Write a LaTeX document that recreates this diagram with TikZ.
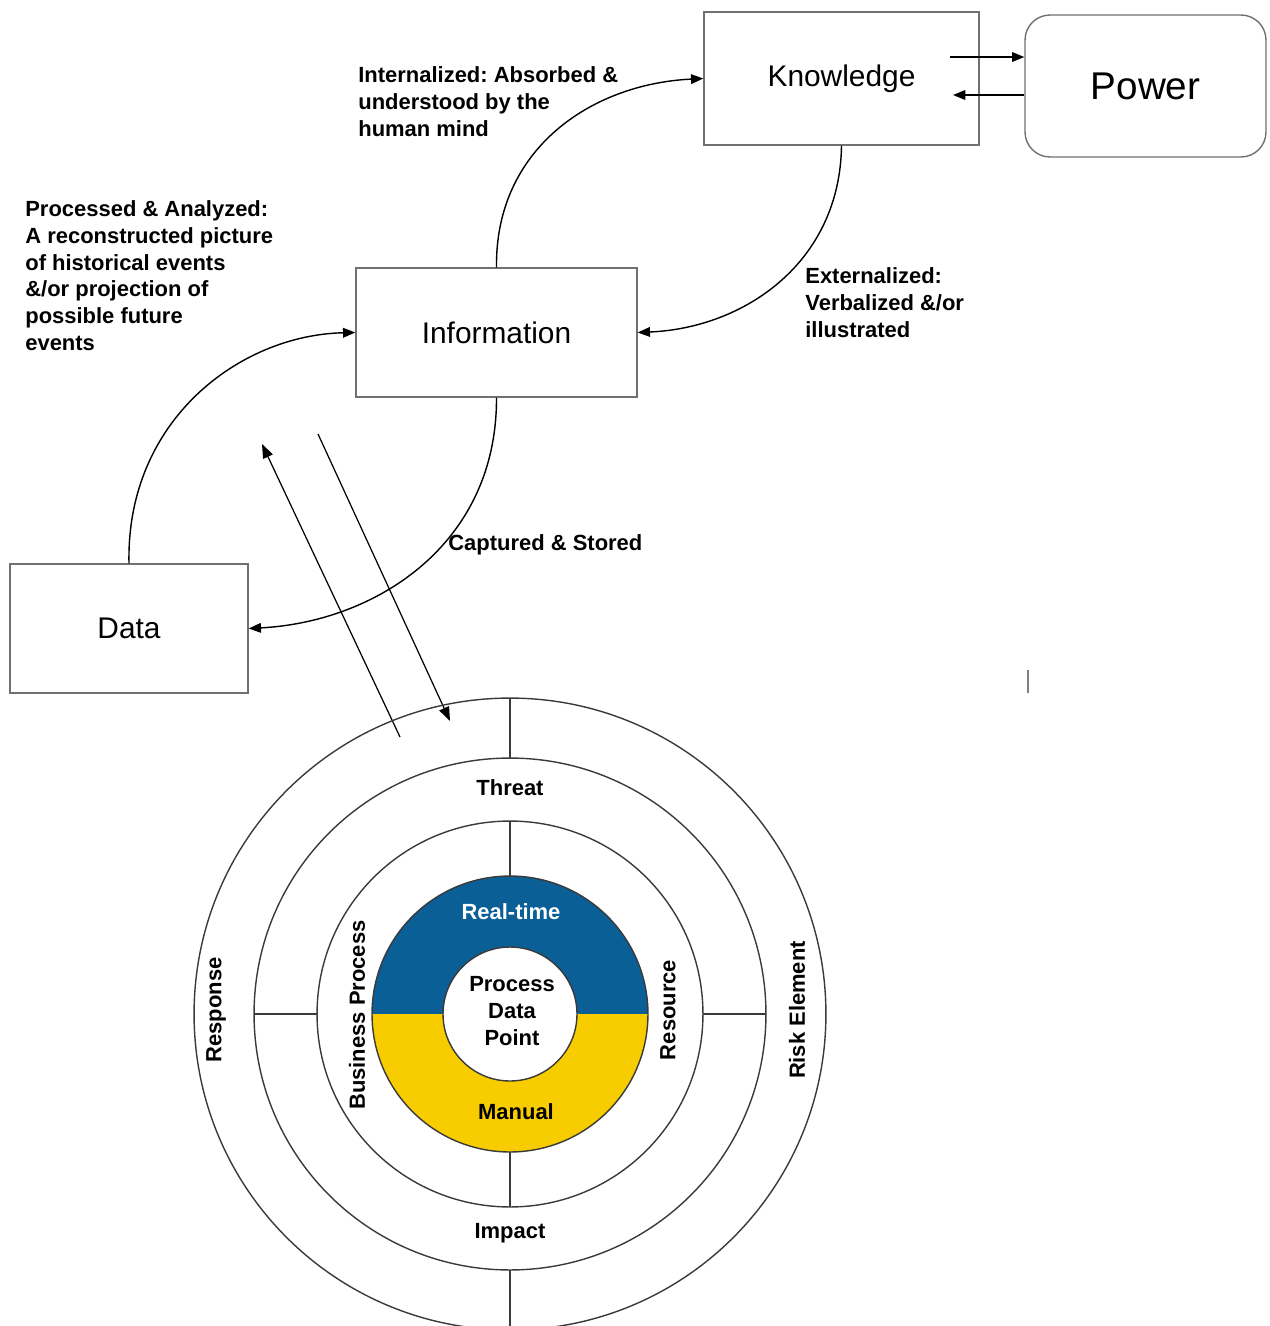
\documentclass[tikz,border=0pt]{standalone}
\usepackage{fontspec}
\setmainfont{Liberation Sans}
\usetikzlibrary{arrows.meta,calc}
\definecolor{ringblue}{HTML}{0B5F97}
\definecolor{ringyellow}{HTML}{F7CD00}
\definecolor{boxgray}{HTML}{707070}
\definecolor{circgray}{HTML}{3A3A3A}
\frenchspacing
\begin{document}
\begin{tikzpicture}[x=0.02cm,y=-0.02cm,
  box/.style={draw=boxgray,line width=0.8pt,inner sep=0pt,font=\fontsize{17}{20}\selectfont},
  arr/.style={line width=0.8pt,-{Triangle[length=7pt,width=5.5pt]}},
  lab/.style={inner sep=0pt,align=left,font=\bfseries\fontsize{12.5}{15.3}\selectfont},
  rlab/.style={inner sep=0pt,align=center,font=\bfseries\fontsize{12.5}{15.3}\selectfont},
  ring/.style={draw=circgray,line width=0.8pt},
  spoke/.style={draw=circgray,line width=0.9pt}]
\useasboundingbox (0,0) rectangle (1269,1326);

% boxes
\node[box,minimum width=5.5cm,minimum height=2.66cm] (K) at (841.5,78.5) {Knowledge};
\node[box,rounded corners=0.5cm,minimum width=4.82cm,minimum height=2.84cm,font=\fontsize{22}{26}\selectfont] (P) at (1145.5,86) {Power};
\node[box,minimum width=5.62cm,minimum height=2.58cm] (I) at (496.5,332.5) {Information};
\node[box,minimum width=4.76cm,minimum height=2.58cm] (D) at (129,628.5) {Data};

% knowledge <-> power
\coordinate (kp) at (950,57);
\coordinate (pk) at (953,95);
\draw[arr] (kp) -- (kp -| P.west);
\draw[arr] (pk -| P.west) -- (pk);

% cycle curves
\draw[arr] (I.north) .. controls (495,150) and (590,84) .. (K.west);
\draw[arr] (K.south) .. controls (840,262) and (745,328) .. (I.east);
\draw[arr] (I.south) .. controls (497,545) and (375,622) .. (D.east);
\draw[arr] (D.north) .. controls (126,420) and (240,335) .. (I.west);

% labels
\node[lab,anchor=north west] (t1) at (358,66) {Internalized: Absorbed \&\\understood by the\\human mind};
\node[lab,anchor=north west] (t2) at (25,200) {Processed \& Analyzed:\\A reconstructed picture\\of historical events\\\&/or projection of\\possible future\\events};
\node[lab,anchor=north west] (t3) at (805,267) {Externalized:\\Verbalized \&/or\\illustrated};
\node[lab,anchor=west] (t4) at (448,545) {Captured \& Stored};

% diagonal arrows
\coordinate (a1) at (400,737);
\coordinate (a2) at (262,444);
\coordinate (b1) at (318,434);
\coordinate (b2) at (450,721);
\draw[line width=0.7pt,-{Triangle[length=8pt,width=6pt]}] (a1) -- (a2);
\draw[line width=0.7pt,-{Triangle[length=8pt,width=6pt]}] (b1) -- (b2);

% stray mark
\coordinate (m1) at (1028,670);
\coordinate (m2) at (1028,693);
\draw[line width=1.4pt,gray] (m1) -- (m2);

% circles
\coordinate (c) at (510,1014);
\fill[ringblue] (c) ++(0:2.76cm) arc[start angle=0,end angle=180,radius=2.76cm] -- cycle;
\fill[ringyellow] (c) ++(0:2.76cm) arc[start angle=0,end angle=-180,radius=2.76cm] -- cycle;
\fill[white] (c) circle[radius=1.34cm];
\draw[ring] (c) circle[radius=2.76cm];
\draw[ring] (c) circle[radius=1.34cm];
\draw[ring] (c) circle[radius=3.86cm];
\draw[ring] (c) circle[radius=5.12cm];
\draw[ring] (c) circle[radius=6.32cm];

% spokes
\draw[spoke] (c) ++(90:6.32cm) -- ++(0,-1.2cm);
\draw[spoke] (c) ++(90:3.86cm) -- ++(0,-1.1cm);
\draw[spoke] (c) ++(-90:2.76cm) -- ++(0,-1.1cm);
\draw[spoke] (c) ++(-90:5.12cm) -- ++(0,-1.2cm);
\draw[spoke] (c) ++(180:5.12cm) -- ++(1.26cm,0);
\draw[spoke] (c) ++(0:3.86cm) -- ++(1.26cm,0);

% ring labels
\node[rlab] (th) at (510,788) {Threat};
\node[rlab] (im) at (510,1233) {Impact};
\node[rlab,rotate=90] (re) at (216,1010) {Response};
\node[rlab,rotate=90] (rk) at (797,1010) {Risk Element};
\node[rlab,rotate=90] (bp) at (357,1015) {Business Process};
\node[rlab,rotate=90] (rs) at (668,1010) {Resource};
\node[rlab,text=white] (rt) at (511,912) {Real-time};
\node[rlab] (mn) at (516,1112) {Manual};
\node[rlab] (pd) at (512,1011) {Process\\Data\\Point};
\end{tikzpicture}
\end{document}
